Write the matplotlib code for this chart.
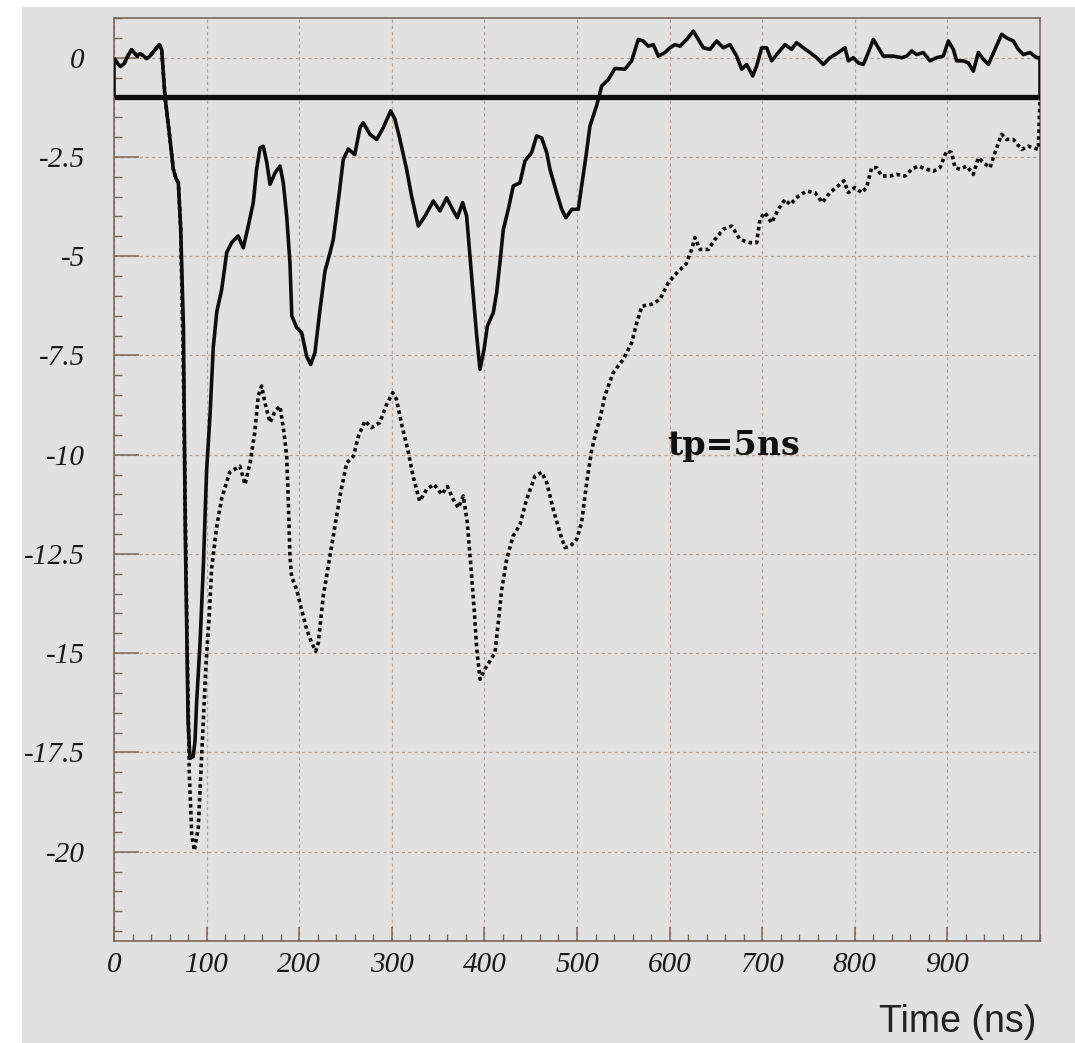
import matplotlib
matplotlib.use("Agg")
import matplotlib.pyplot as plt
from matplotlib.patches import Rectangle
from matplotlib.ticker import MultipleLocator, FixedLocator

# ---- signal (solid) : time in ns, amplitude ----
solid_t = [1, 4, 7, 11, 15, 19, 22, 25, 28, 31, 35, 38, 42, 46, 49, 51.5,
           55, 60.5, 64, 67, 69.5, 72, 75, 77, 80, 82, 85.6, 87.5, 89.3, 92.9,
           96.5, 100, 103.7, 107.2, 111, 116.3, 121.7, 127, 134, 139.6, 145,
           150.4, 154, 157.7, 161.2, 165, 168.5, 174, 179.3, 182.8, 186.5, 190,
           192, 197.3, 202.7, 208, 212.4, 217, 222.5, 227.9, 233.3, 236.8,
           243.3, 247.6, 253, 260, 265.7, 269.2, 276.4, 283.7, 290.8, 298.8,
           303.4, 308.8, 316, 321.4, 328.6, 335.9, 344.8, 352, 359.2, 365.7,
           370.7, 376.5, 380.8, 384.4, 388, 391.7, 395.2, 399.6, 403.2, 409.6,
           413.2, 416.8, 420.4, 425.8, 431.2, 438.4, 443.8, 451, 456.4, 461.8,
           467.3, 470.8, 478, 483.5, 488, 494.3, 501.4, 505, 509.7, 514, 521.3,
           526.7, 533.8, 541, 551.8, 559, 566.2, 571.6, 577, 582.4, 587.8, 595,
           600.4, 605.8, 611.2, 618.5, 625.6, 631, 636.4, 643.6, 650.8, 658,
           665.2, 672.4, 677.8, 683.2, 689.7, 694, 699.4, 704.8, 710.2, 717.4,
           724.6, 731.8, 737.1, 744.4, 751.6, 758.8, 766, 773.2, 782.2, 789.4,
           793, 798.4, 803.8, 809.2, 814.6, 820, 825.4, 830.8, 841.6, 850.6,
           856, 861.4, 866.8, 874, 881.2, 888.4, 895.6, 901, 906.4, 910, 917.2,
           922.6, 928, 933.4, 938.8, 944.2, 951.4, 958.6, 964, 971.2, 976.6,
           982, 989.2, 996.4, 1000]
solid_v = [-0.05, -0.15, -0.22, -0.15, 0.05, 0.2, 0.12, 0.04, 0.1, 0.06, -0.02,
           0.02, 0.13, 0.25, 0.33, 0.2,
           -0.97, -2.06, -2.8, -3.05, -3.15, -4.3, -6.8, -12.0, -16.7, -17.65,
           -17.6, -17.2, -16.2, -14.75, -12.8, -10.4, -9.0, -7.3, -6.4, -5.84,
           -4.91, -4.66, -4.49, -4.79, -4.24, -3.65, -2.81, -2.27, -2.23, -2.64,
           -3.19, -2.9, -2.73, -3.15, -3.99, -5.16, -6.5, -6.8, -6.93, -7.52,
           -7.73, -7.43, -6.34, -5.37, -4.91, -4.58, -3.4, -2.56, -2.3, -2.44,
           -1.76, -1.64, -1.93, -2.06, -1.76, -1.34, -1.55, -2.06, -2.81, -3.49,
           -4.24, -3.99, -3.61, -3.86, -3.53, -3.82, -4.03, -3.65, -3.99, -5.0,
           -6.0, -7.01, -7.85, -7.35, -6.76, -6.42, -5.92, -5.16, -4.33, -3.82,
           -3.23, -3.15, -2.6, -2.39, -1.97, -2.02, -2.39, -2.81, -3.4, -3.82,
           -4.03, -3.82, -3.82, -3.23, -2.48, -1.72, -1.2, -0.71, -0.55, -0.27,
           -0.29, -0.08, 0.46, 0.42, 0.29, 0.33, 0.04, 0.13, 0.25, 0.33, 0.29,
           0.46, 0.67, 0.46, 0.25, 0.21, 0.42, 0.25, 0.33, 0.04, -0.29, -0.17,
           -0.46, -0.21, 0.25, 0.25, -0.08, 0.13, 0.33, 0.21, 0.38, 0.25, 0.13,
           0.0, -0.17, 0.0, 0.13, 0.25, -0.08, 0.0, -0.13, -0.17, 0.13, 0.46,
           0.25, 0.04, 0.04, 0.0, 0.04, 0.17, 0.08, 0.13, -0.08, 0.0, 0.04, 0.42,
           0.21, -0.08, -0.08, -0.13, -0.34, 0.13, -0.04, -0.17, 0.21, 0.59,
           0.5, 0.42, 0.21, 0.08, 0.13, 0.0, 0.0]

# ---- integrated response (dotted) ----
dotted_t = [1, 4, 7, 11, 15, 19, 22, 25, 28, 31, 35, 38, 42, 46, 49, 51.5,
            55, 60.5, 64, 67, 69.5, 72, 75, 78.5, 81.3, 84, 86.8, 91, 93.6,
            96.5, 99.4, 103, 105.5, 111, 116.3, 125, 136, 141.5, 147, 152,
            155.8, 159.4, 163, 168.5, 174, 179.3, 183.6, 186.5, 188.3, 190,
            191.7, 197.2, 202.6, 208, 213.5, 217.8, 220.6, 226, 231.4, 238.6,
            244, 251.4, 258.5, 264, 271, 278, 287, 294.5, 301, 305, 310.7, 318,
            323, 330, 337.7, 345.6, 354, 360, 366.4, 371.8, 377.2, 381.5, 385,
            389, 391.7, 395.3, 400.6, 411.4, 415, 418.7, 424, 431, 438.5, 445.5,
            454.6, 461.9, 467.3, 474.4, 481.6, 487, 493, 499.7, 505, 510.5,
            515.9, 521.3, 524.8, 530, 539.2, 550, 559, 564.5, 570, 580.6, 589.6,
            598.6, 607.7, 617.7, 623.8, 627.4, 632.8, 641.8, 649, 658, 667, 676,
            686.8, 694, 697.5, 703, 710, 717.4, 724.6, 730, 739, 748, 757, 765,
            773.2, 782, 788.3, 793, 800, 807.5, 812.8, 818.2, 823.6, 829, 838,
            845.2, 854.2, 861.4, 868.6, 877.6, 884.8, 892, 899.2, 904.6, 908.2,
            913.6, 920.8, 928, 933.4, 938.8, 946, 951.4, 958.6, 964, 971.2,
            980.2, 987.4, 998.2, 1000]
dotted_v = [-0.05, -0.15, -0.22, -0.15, 0.05, 0.2, 0.12, 0.04, 0.1, 0.06, -0.02,
            0.02, 0.13, 0.25, 0.33, 0.2,
            -0.97, -2.06, -2.8, -3.05, -3.15, -4.3, -8.0, -14.0, -18.04, -19.58,
            -19.97, -19.4, -18.1, -16.7, -15.25, -14.0, -12.85, -11.8, -11.1,
            -10.44, -10.29, -10.75, -10.2, -9.44, -8.52, -8.27, -8.69, -9.19,
            -8.9, -8.78, -9.45, -10.04, -11.2, -12.55, -13.06, -13.4, -13.9,
            -14.4, -14.74, -14.95, -14.74, -13.56, -12.8, -11.8, -11.04, -10.2,
            -10.04, -9.53, -9.15, -9.32, -9.19, -8.73, -8.44, -8.6, -9.24, -9.95,
            -10.54, -11.17, -10.87, -10.75, -11.0, -10.8, -11.13, -11.34, -11.04,
            -11.7, -12.7, -13.9, -14.9, -15.66, -15.4, -14.99, -14.23, -13.4,
            -12.64, -12.05, -11.76, -11.13, -10.54, -10.44, -10.7, -11.38,
            -11.97, -12.34, -12.3, -12.13, -11.7, -10.7, -9.87, -9.36, -9.1,
            -8.52, -7.93, -7.6, -7.18, -6.68, -6.26, -6.21, -6.09, -5.67, -5.42,
            -5.2, -4.83, -4.53, -4.83, -4.83, -4.58, -4.32, -4.24, -4.58, -4.66,
            -4.66, -4.07, -3.9, -4.16, -3.82, -3.57, -3.7, -3.49, -3.36, -3.4,
            -3.65, -3.4, -3.23, -3.1, -3.4, -3.27, -3.4, -3.27, -2.77, -2.77,
            -2.98, -2.98, -2.94, -2.98, -2.81, -2.73, -2.81, -2.86, -2.77, -2.35,
            -2.39, -2.77, -2.81, -2.73, -2.94, -2.52, -2.64, -2.77, -2.39, -1.93,
            -2.06, -2.06, -2.31, -2.23, -2.31, -1.0]

BASELINE = -1.0
x_ticks = [0, 100, 200, 300, 400, 500, 600, 700, 800, 900]
y_ticks = [0, -2.5, -5, -7.5, -10, -12.5, -15, -17.5, -20]
y_tick_labels = ["0", "-2.5", "-5", "-7.5", "-10", "-12.5", "-15", "-17.5", "-20"]
annotation = "tp=5ns"
x_title = "Time (ns)"

W, H = 1075, 1043
fig = plt.figure(figsize=(W / 100, H / 100), dpi=100)
fig.patch.set_facecolor("white")
bg = "#e1e1e1"
panel = Rectangle((22 / W, 0), 1 - 22 / W, 1 - 7 / H,
                  transform=fig.transFigure, facecolor=bg,
                  edgecolor="none", zorder=-10)
fig.add_artist(panel)

ax = fig.add_axes([114 / W, 1 - 941 / H, (1040 - 114) / W, (941 - 18) / H])
ax.set_zorder(1)
ax.set_facecolor(bg)
ax.set_xlim(0, 1000)
ax.set_ylim(-22.25, 1.0)

frame_c = "#75675d"
for s in ax.spines.values():
    s.set_color(frame_c)
    s.set_linewidth(1.2)

ax.xaxis.set_major_locator(FixedLocator(x_ticks))
ax.xaxis.set_minor_locator(MultipleLocator(20))
ax.yaxis.set_major_locator(FixedLocator(y_ticks))
ax.yaxis.set_minor_locator(MultipleLocator(0.5))
ax.set_yticklabels(y_tick_labels)
ax.set_xticklabels([str(v) for v in x_ticks])

ax.tick_params(axis="x", which="major", direction="in", length=10, width=1.1,
               color=frame_c, pad=8, top=False)
ax.tick_params(axis="x", which="minor", direction="in", length=5, width=1.0,
               color=frame_c, top=False)
ax.tick_params(axis="y", which="major", direction="in", length=18, width=1.1,
               color=frame_c, pad=21, right=False)
ax.tick_params(axis="y", which="minor", direction="in", length=6, width=1.0,
               color=frame_c, right=False)
for lab in ax.get_xticklabels() + ax.get_yticklabels():
    lab.set_fontfamily("Liberation Serif")
    lab.set_fontstyle("italic")
    lab.set_fontsize(21)
    lab.set_color("#1a1a1a")

ax.grid(True, which="major", color="#b2a69c", linewidth=0.9,
        linestyle=(0, (2.5, 2.5)))
ax.set_axisbelow(True)

line_c = "#0e0e0e"
ax.plot(dotted_t, dotted_v, color=line_c, linewidth=2.6,
        linestyle=(0, (1.0, 0.9)), zorder=3)
ax.plot(solid_t, solid_v, color=line_c, linewidth=2.6, zorder=4,
        solid_joinstyle="round")
ax.vlines([0], BASELINE, solid_v[0], color=line_c, linewidth=2.6, zorder=4)
ax.vlines([1000], BASELINE, solid_v[-1], color=line_c, linewidth=2.6, zorder=4)
ax.hlines(BASELINE, 0, 1000, color=line_c, linewidth=3.8, zorder=5)

ax.text(598, -10.0, annotation, fontfamily="DejaVu Serif",
        fontweight="bold", fontsize=24, color="#111111",
        ha="left", va="baseline", zorder=6)

fig.text(1036 / W, 1 - 1032 / H, x_title, fontfamily="Liberation Sans",
         fontsize=27, color="#222222", ha="right", va="baseline")

fig.savefig("out.png", dpi=100, facecolor=fig.get_facecolor())
